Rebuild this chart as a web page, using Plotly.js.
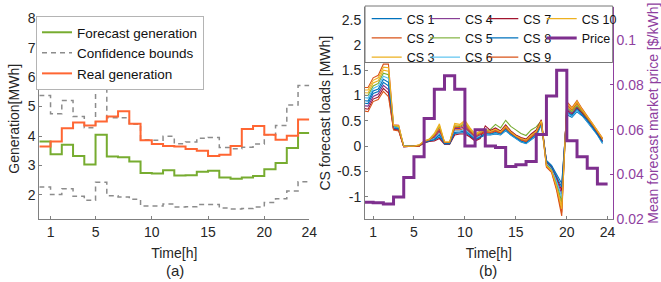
<!DOCTYPE html>
<html><head><meta charset="utf-8">
<script src="https://cdn.plot.ly/plotly-3.0.1.min.js"></script>
<style>html,body{margin:0;padding:0;background:#fff}#chart{width:661px;height:282px}</style>
</head><body><div id="chart"></div>
<script>
// ---------- data: panel (a) ----------
const hourEdges = [0,1,2,3,4,5,6,7,8,9,10,11,12,13,14,15,16,17,18,19,20,21,22,23,24];
const forecastGen = [3.81,3.38,3.70,3.32,3.03,4.04,3.30,3.28,3.13,2.74,2.73,2.84,2.66,2.67,2.79,2.82,2.59,2.55,2.59,2.64,2.87,3.08,3.59,4.10];
const upperBound  = [5.38,4.76,5.21,4.66,4.28,5.72,4.62,4.62,4.40,3.87,3.86,3.99,3.74,3.80,3.92,3.95,3.61,3.57,3.62,3.73,4.04,4.36,5.05,5.72];
const lowerBound  = [2.27,2.01,2.21,1.95,1.82,2.43,1.97,1.93,1.85,1.62,1.62,1.69,1.59,1.60,1.67,1.67,1.55,1.52,1.54,1.59,1.74,1.87,2.13,2.45];
const realGen     = [3.64,3.81,4.26,4.46,4.36,4.49,4.66,4.84,4.42,3.86,3.73,3.66,3.64,3.56,3.50,3.32,3.36,3.66,4.24,4.34,4.04,3.87,4.01,4.56];
const xTicksA = [1,5,10,15,20,24];

// ---------- data: panel (b) ----------
const halfHours = [0,0.5,1,1.5,2,2.5,3,3.5,4,4.5,5,5.5,6,6.5,7,7.5,8,8.5,9,9.5,10,10.5,11,11.5,12,12.5,13,13.5,14,14.5,15,15.5,16,16.5,17,17.5,18,18.5,19,19.5,20,20.5,21,21.5,22,22.5,23,23.5];
const cs1  = [0.85,0.84,1.04,1.08,1.26,1.19,0.35,0.34,-0.01,0,0,0.01, 0.06,0.10,0.12,0.18,0.04,0.04,0.25,0.26,0.27,0.20,0.12,0.17, 0.22,0.22,0.24,0.22,0.30,0.22,0.15,0.08,0.05,0.12,0.20,0.42, -0.28,-0.38,-0.55,-0.74, 0.62,0.57,0.68,0.60,0.48,0.36,0.22,0.05];
const cs2  = [1.16,1.16,1.35,1.40,1.62,1.62,0.42,0.41,0,0,0,0.02, 0.08,0.11,0.17,0.28,0.06,0.06,0.32,0.32,0.36,0.26,0.16,0.22, 0.27,0.25,0.285,0.25,0.345,0.25,0.175,0.115,0.085,0.165,0.245,0.46, -0.42,-0.52,-0.88,-1.38, 0.88,0.76,0.90,0.74,0.60,0.46,0.31,0.16];
const cs3  = [1.06,1.05,1.25,1.29,1.50,1.48,0.40,0.38,0,0,0,0.02, 0.10,0.14,0.25,0.44,0.08,0.08,0.45,0.43,0.51,0.36,0.24,0.30, 0.33,0.30,0.345,0.29,0.405,0.29,0.21,0.16,0.13,0.225,0.305,0.51, -0.37,-0.47,-0.77,-1.17, 0.79,0.70,0.83,0.69,0.56,0.43,0.28,0.13];
const cs4  = [0.80,0.79,0.98,1.03,1.20,1.12,0.34,0.33,-0.01,0,0,0, 0.08,0.12,0.18,0.31,0.06,0.06,0.35,0.35,0.39,0.28,0.18,0.23, 0.30,0.28,0.315,0.27,0.375,0.27,0.19,0.14,0.11,0.195,0.275,0.49, -0.33,-0.43,-0.66,-0.95, 0.74,0.65,0.78,0.66,0.53,0.40,0.26,0.10];
const cs5  = [1.01,1.00,1.19,1.24,1.44,1.41,0.39,0.37,0,0,0,0.01, 0.09,0.13,0.22,0.38,0.07,0.07,0.40,0.39,0.45,0.32,0.21,0.27, 0.30,0.33,0.43,0.36,0.51,0.39,0.32,0.25,0.21,0.32,0.38,0.50, -0.36,-0.46,-0.73,-1.10, 0.76,0.68,0.80,0.68,0.55,0.42,0.27,0.14];
const cs6  = [0.96,0.95,1.14,1.19,1.38,1.34,0.38,0.36,0,0,0,0.01, 0.07,0.11,0.15,0.25,0.05,0.05,0.30,0.30,0.33,0.24,0.15,0.20, 0.24,0.23,0.255,0.23,0.315,0.23,0.16,0.09,0.06,0.135,0.215,0.44, -0.34,-0.44,-0.70,-1.02, 0.65,0.59,0.70,0.62,0.49,0.37,0.23,0.06];
const cs7  = [0.75,0.73,0.93,0.97,1.14,1.05,0.33,0.31,-0.01,0,0,0, 0.06,0.09,0.10,0.15,0.04,0.04,0.22,0.24,0.24,0.18,0.10,0.15, 0.40,0.31,0.36,0.30,0.42,0.30,0.22,0.17,0.14,0.24,0.32,0.52, -0.31,-0.41,-0.62,-0.88, 0.71,0.63,0.75,0.65,0.52,0.39,0.25,0.09];
const cs8  = [0.90,0.89,1.09,1.13,1.32,1.26,0.36,0.35,0,0,0,0.01, 0.07,0.10,0.13,0.22,0.05,0.05,0.27,0.28,0.30,0.22,0.13,0.18, 0.25,0.24,0.27,0.24,0.33,0.24,0.165,0.10,0.07,0.15,0.23,0.45, -0.30,-0.40,-0.59,-0.81, 0.68,0.61,0.73,0.63,0.51,0.38,0.24,0.08];
const cs9  = [0.70,0.68,0.88,0.92,1.08,0.98,0.32,0.30,-0.01,0,0,0, 0.09,0.12,0.20,0.34,0.07,0.07,0.37,0.37,0.42,0.30,0.19,0.25, 0.28,0.27,0.30,0.26,0.36,0.26,0.185,0.125,0.095,0.18,0.26,0.47, -0.40,-0.50,-0.84,-1.31, 0.82,0.72,0.85,0.71,0.57,0.44,0.29,0.14];
const cs10 = [1.11,1.11,1.30,1.35,1.56,1.55,0.41,0.40,0,0,0,0.02, 0.10,0.13,0.23,0.41,0.08,0.08,0.42,0.41,0.48,0.34,0.22,0.28, 0.31,0.29,0.33,0.28,0.39,0.28,0.20,0.15,0.12,0.21,0.29,0.50, -0.39,-0.49,-0.81,-1.24, 0.85,0.74,0.88,0.72,0.59,0.45,0.30,0.15];
const price = [0.0276,0.0274,0.0268,0.0300,0.0386,0.0479,0.0650,0.0780,0.0840,0.0780,0.0527,0.0600,0.0527,0.0520,0.0435,0.0443,0.0458,0.0578,0.0750,0.0865,0.0550,0.0479,0.0428,0.0357];
const csNames = ['CS 1','CS 2','CS 3','CS 4','CS 5','CS 6','CS 7','CS 8','CS 9','CS 10'];
const csSeries = [cs1,cs2,cs3,cs4,cs5,cs6,cs7,cs8,cs9,cs10];
const yTicksB = [-1,-0.5,0,0.5,1,1.5,2,2.5];
const yTickTextB = ['-1','-0.5','0','0.5','1','1.5','2','2.5'];
const priceTicks = [0.02,0.04,0.06,0.08,0.1];
const priceTickText = ['0.02','0.04','0.06','0.08','0.1'];

// ---------- styling ----------
const W = 661, H = 282;
const FONT = 'Liberation Sans, Arial, Helvetica, sans-serif';
const TXT = '#262626', AX = '#808080', PURPLE = '#7E2F8E', PURPLE_AX = '#8f3f9f';
const csColors = ['#0072BD','#D95319','#EDB120','#7E2F8E','#77AC30','#4DBEEE','#A2142F','#0072BD','#D95319','#EDB120'];
const px = v => v / W;
const pyTop = v => 1 - v / H;
const stair = arr => arr.concat([arr[arr.length - 1]]);

const traces = [];
traces.push({x: hourEdges, y: stair(forecastGen), type:'scatter', mode:'lines', line:{shape:'hv', color:'#77AC30', width:2}, name:'Forecast generation', xaxis:'x', yaxis:'y', legend:'legend'});
traces.push({x: hourEdges, y: stair(upperBound), type:'scatter', mode:'lines', line:{shape:'hv', color:'#8c8c8c', width:1.5, dash:'5px,4px'}, name:'Confidence bounds', xaxis:'x', yaxis:'y', legend:'legend'});
traces.push({x: hourEdges, y: stair(lowerBound), type:'scatter', mode:'lines', line:{shape:'hv', color:'#8c8c8c', width:1.5, dash:'5px,4px'}, name:'Confidence bounds', showlegend:false, xaxis:'x', yaxis:'y', legend:'legend'});
traces.push({x: hourEdges, y: stair(realGen), type:'scatter', mode:'lines', line:{shape:'hv', color:'#FF6633', width:2}, name:'Real generation', xaxis:'x', yaxis:'y', legend:'legend'});

const legendOf = i => (i < 3 ? 'legend2' : i < 6 ? 'legend3' : i < 9 ? 'legend4' : 'legend5');
csSeries.forEach((s, i) => {
  traces.push({x: halfHours, y: s, type:'scatter', mode:'lines', line:{color: csColors[i], width:1.1}, name: csNames[i], xaxis:'x2', yaxis:'y2', legend: legendOf(i)});
});
traces.push({x: hourEdges, y: stair(price), type:'scatter', mode:'lines', line:{shape:'hv', color: PURPLE, width:3}, name:'Price', xaxis:'x2', yaxis:'y3', legend:'legend5'});

const axisCommon = {showline:true, linecolor:AX, linewidth:1, ticks:'inside', ticklen:3, tickcolor:AX, showgrid:false, zeroline:false, tickfont:{size:14, color:TXT}};
const plotBottom = 219.3;
const topB = 7;

const colLegend = (xpx) => ({x: px(xpx), y: pyTop(4), xanchor:'left', yanchor:'top', bgcolor:'rgba(0,0,0,0)', borderwidth:0, font:{size:12.5, color:'#111'}, orientation:'v', tracegroupgap:0});

const layout = {
  width: W, height: H,
  margin: {l:0, r:0, t:0, b:0},
  paper_bgcolor:'#ffffff', plot_bgcolor:'rgba(0,0,0,0)',
  font: {family: FONT, size: 14, color: TXT},
  xaxis: Object.assign({}, axisCommon, {domain:[px(39.3), px(309.3)], range:[0,24], tickmode:'array', tickvals:xTicksA, anchor:'y', title:{text:'Time[h]', font:{size:14, color:TXT}, standoff:9}}),
  yaxis: Object.assign({}, axisCommon, {domain:[pyTop(plotBottom), pyTop(18.3)], range:[1.17,8], tickmode:'linear', tick0:2, dtick:1, anchor:'x', title:{text:'Generation[MWh]', font:{size:14, color:TXT}, standoff:4}}),
  xaxis2: Object.assign({}, axisCommon, {domain:[px(365), px(612.7)], range:[0.2,24.5], tickmode:'array', tickvals:xTicksA, anchor:'y2', title:{text:'Time[h]', font:{size:14, color:TXT}, standoff:9}}),
  yaxis2: Object.assign({}, axisCommon, {domain:[pyTop(plotBottom), pyTop(topB)], range:[-1.447,2.75], tickmode:'array', tickvals:yTicksB, ticktext:yTickTextB, anchor:'x2', title:{text:'CS forecast loads [MWh]', font:{size:14, color:TXT}, standoff:3}}),
  yaxis3: Object.assign({}, axisCommon, {overlaying:'y2', side:'right', anchor:'x2', range:[0.02,0.1147], tickmode:'array', tickvals:priceTicks, ticktext:priceTickText, linecolor:PURPLE_AX, tickcolor:PURPLE_AX, tickfont:{size:14, color:PURPLE_AX}, title:{text:'Mean forecast market price [$/kWh]', font:{size:14, color:PURPLE_AX}, standoff:9}}),
  legend: {x: px(36), y: pyTop(16), xanchor:'left', yanchor:'top', bgcolor:'#ffffff', bordercolor:'#b4b4b4', borderwidth:1, font:{size:13.5, color:'#111'}, tracegroupgap:0},
  legend2: colLegend(366.7),
  legend3: colLegend(425),
  legend4: colLegend(483.3),
  legend5: colLegend(541.7),
  shapes: [
    {type:'rect', xref:'paper', yref:'paper', x0:px(365), x1:px(612.7), y0:pyTop(62.5), y1:pyTop(6), fillcolor:'#ffffff', line:{color:'#777777', width:1}, layer:'above'}
  ],
  annotations: [
    {text:'(a)', xref:'paper', yref:'paper', x:px(175), y:pyTop(270), xanchor:'center', yanchor:'middle', showarrow:false, font:{size:15, color:TXT}},
    {text:'(b)', xref:'paper', yref:'paper', x:px(488), y:pyTop(270), xanchor:'center', yanchor:'middle', showarrow:false, font:{size:15, color:TXT}}
  ]
};

Plotly.newPlot('chart', traces, layout, {displayModeBar:false, staticPlot:true});
</script>
</body></html>
